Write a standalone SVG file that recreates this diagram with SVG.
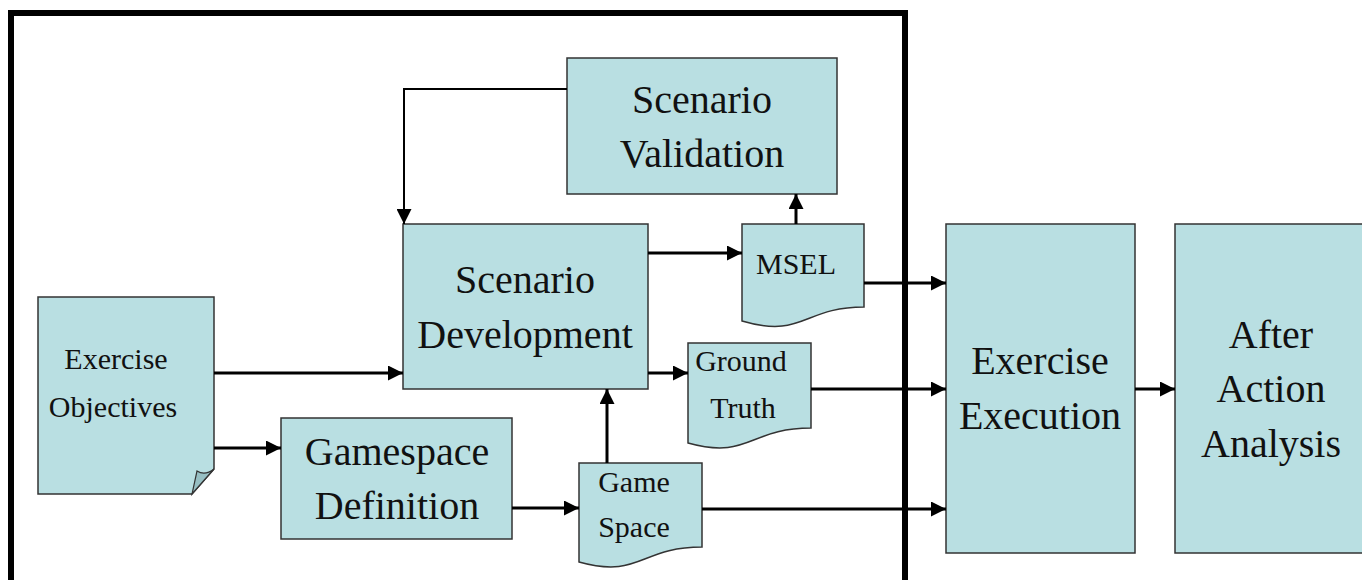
<svg xmlns="http://www.w3.org/2000/svg" width="1362" height="580" viewBox="0 0 1362 580">
<defs>
<style>
.box{fill:#b9dfe2;stroke:#333;stroke-width:1.5}
.fold{fill:#97bfc3;stroke:#333;stroke-width:1.2}
.t40{font-family:"Liberation Serif","Times New Roman",serif;font-size:40px;fill:#111;text-anchor:middle}
.t30{font-family:"Liberation Serif","Times New Roman",serif;font-size:30px;fill:#111;text-anchor:middle}
.c{fill:none;stroke:#000;stroke-width:3}
.thin{fill:none;stroke:#000;stroke-width:2}
.frame{fill:none;stroke:#000;stroke-width:6}
</style>
<marker id="ah" markerWidth="15" markerHeight="15" refX="15" refY="7.5" orient="auto" markerUnits="userSpaceOnUse">
<path d="M0,0 L15,7.5 L0,15 Z" fill="#000"/>
</marker>
</defs>
<rect width="1362" height="580" fill="#fff"/>
<path class="frame" d="M11,600 V13 H905 V600"/>

<g id="exercise-objectives">
<path class="box" d="M38,297 H214 V469 L192,494 H38 Z"/>
<path class="fold" d="M214,469 Q205,476 197,471 L192,494 Z"/>
<text class="t30" x="116" y="369">Exercise</text>
<text class="t30" x="113" y="417">Objectives</text>
</g>

<g id="scenario-validation">
<rect class="box" x="567" y="58" width="270" height="136"/>
<text class="t40" x="702" y="113">Scenario</text>
<text class="t40" x="702" y="167">Validation</text>
</g>

<g id="scenario-development">
<rect class="box" x="403" y="224" width="245" height="165"/>
<text class="t40" x="525" y="293">Scenario</text>
<text class="t40" x="525" y="348">Development</text>
</g>

<g id="gamespace-definition">
<rect class="box" x="281" y="418" width="231" height="121"/>
<text class="t40" x="397" y="465">Gamespace</text>
<text class="t40" x="397" y="519">Definition</text>
</g>

<g id="msel">
<path class="box" d="M742,224 H864 V307 C803,307 803,339 742,321 Z"/>
<text class="t30" x="796" y="274">MSEL</text>
</g>

<g id="ground-truth">
<path class="box" d="M688,343 H811 V428 C749,428 749,460 688,443 Z"/>
<text class="t30" x="741" y="371">Ground</text>
<text class="t30" x="743" y="418">Truth</text>
</g>

<g id="game-space">
<path class="box" d="M579,463 H702 V547 C640,547 640,579 579,562 Z"/>
<text class="t30" x="634" y="492">Game</text>
<text class="t30" x="634" y="537">Space</text>
</g>

<g id="exercise-execution">
<rect class="box" x="946" y="224" width="189" height="329"/>
<text class="t40" x="1040" y="374">Exercise</text>
<text class="t40" x="1040" y="429">Execution</text>
</g>

<g id="after-action-analysis">
<rect class="box" x="1175" y="224" width="200" height="329"/>
<text class="t40" x="1271" y="348">After</text>
<text class="t40" x="1271" y="402">Action</text>
<text class="t40" x="1271" y="457">Analysis</text>
</g>

<g id="connectors">
<path class="thin" d="M567,89 H404 V224" marker-end="url(#ah)"/>
<path class="c" d="M648,253 H742" marker-end="url(#ah)"/>
<path class="c" d="M796,224 V194" marker-end="url(#ah)"/>
<path class="c" d="M648,373 H688" marker-end="url(#ah)"/>
<path class="c" d="M214,373 H403" marker-end="url(#ah)"/>
<path class="c" d="M214,448 H281" marker-end="url(#ah)"/>
<path class="c" d="M512,508 H579" marker-end="url(#ah)"/>
<path class="c" d="M607,463 V389" marker-end="url(#ah)"/>
<path class="c" d="M864,283 H946" marker-end="url(#ah)"/>
<path class="c" d="M811,389 H946" marker-end="url(#ah)"/>
<path class="c" d="M702,509 H946" marker-end="url(#ah)"/>
<path class="c" d="M1135,389 H1175" marker-end="url(#ah)"/>
</g>
</svg>
